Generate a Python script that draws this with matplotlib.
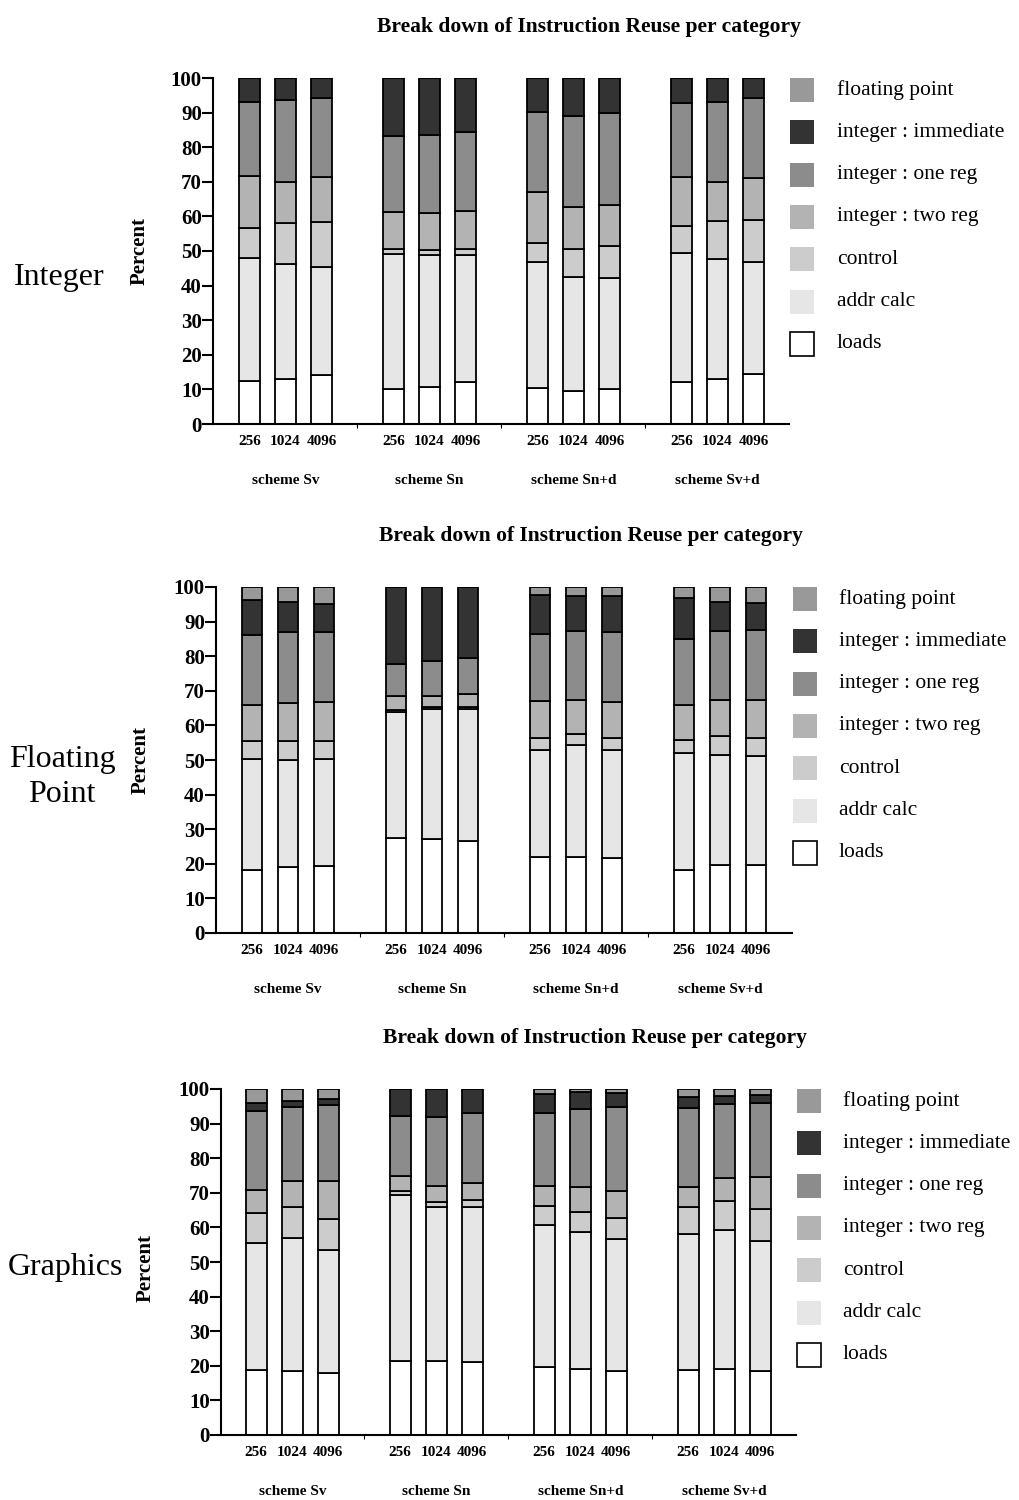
import numpy as np
import matplotlib
matplotlib.use("Agg")
import matplotlib.pyplot as plt
from matplotlib.patches import Rectangle

plt.rcParams["font.family"] = ["Liberation Serif", "DejaVu Serif"]

W, H = 1020, 1500

schemes = ["scheme Sv", "scheme Sn", "scheme Sn+d", "scheme Sv+d"]
sizes = ["256", "1024", "4096"]
categories = ["loads", "addr calc", "control", "integer : two reg",
              "integer : one reg", "integer : immediate", "floating point"]
colors = ["#ffffff", "#e6e6e6", "#cccccc", "#b3b3b3", "#8c8c8c", "#333333", "#999999"]

# cumulative top of each category (percent), 12 bars: Sv, Sn, Sn+d, Sv+d x (256, 1024, 4096)
int_loads = [12.5, 12.9, 14.1, 10.2, 10.7, 12.0, 10.5, 9.6, 10.2, 12.2, 13.0, 14.4]
int_addr = [47.9, 46.3, 45.5, 49.2, 48.7, 48.7, 46.8, 42.6, 42.3, 49.4, 47.7, 46.7]
int_control = [56.6, 58.1, 58.3, 50.6, 50.3, 50.6, 52.3, 50.7, 51.5, 57.2, 58.7, 58.9]
int_two = [71.7, 70.0, 71.4, 61.4, 61.1, 61.6, 67.0, 62.7, 63.2, 71.4, 69.8, 71.2]
int_one = [93.1, 93.5, 94.3, 83.1, 83.4, 84.4, 90.1, 88.9, 89.9, 92.8, 93.2, 94.2]
int_imm = [100, 100, 100, 100, 100, 100, 100, 100, 100, 100, 100, 100]
int_fp = [100, 100, 100, 100, 100, 100, 100, 100, 100, 100, 100, 100]

fp_loads = [18.1, 19.1, 19.3, 27.6, 27.2, 26.6, 21.9, 22.1, 21.6, 18.1, 19.6, 19.6]
fp_addr = [50.3, 49.9, 50.2, 64.0, 64.7, 64.7, 53.0, 54.2, 52.8, 52.0, 51.4, 51.1]
fp_control = [55.6, 55.6, 55.6, 64.5, 65.2, 65.2, 56.5, 57.6, 56.5, 55.7, 56.8, 56.3]
fp_two = [65.9, 66.5, 66.8, 68.4, 68.6, 69.1, 67.1, 67.4, 66.8, 65.9, 67.4, 67.4]
fp_one = [86.2, 87.1, 87.1, 77.7, 78.7, 79.4, 86.5, 87.3, 87.0, 85.0, 87.3, 87.5]
fp_imm = [96.2, 95.8, 95.0, 100, 100, 100, 97.7, 97.5, 97.3, 96.9, 95.8, 95.4]
fp_fp = [100, 100, 100, 100, 100, 100, 100, 100, 100, 100, 100, 100]

gr_loads = [18.9, 18.5, 18.0, 21.4, 21.4, 21.0, 19.7, 19.1, 18.6, 18.8, 19.1, 18.6]
gr_addr = [55.6, 56.9, 53.5, 69.5, 65.8, 66.0, 60.8, 58.7, 56.6, 58.1, 59.3, 56.0]
gr_control = [64.3, 65.8, 62.4, 70.4, 67.2, 67.9, 66.2, 64.4, 62.6, 66.0, 67.7, 65.3]
gr_two = [70.7, 73.3, 73.5, 75.0, 72.0, 72.7, 72.0, 71.8, 70.6, 71.7, 74.4, 74.6]
gr_one = [93.7, 94.7, 95.5, 92.3, 92.0, 93.0, 93.2, 94.3, 94.7, 94.6, 95.7, 96.0]
gr_imm = [96.0, 96.6, 97.1, 100, 100, 100, 98.5, 99.0, 98.8, 97.7, 98.0, 98.2]
gr_fp = [100, 100, 100, 100, 100, 100, 100, 100, 100, 100, 100, 100]

panels = [
    {"label": "Integer", "tops": [int_loads, int_addr, int_control, int_two, int_one, int_imm, int_fp],
     "ax": (213, 78, 789, 424), "first": 249.5, "title": (589, 27), "lab": (59, 278), "pct": (140, 251),
     "leg": (790, 837, 90)},
    {"label": "Floating\nPoint", "tops": [fp_loads, fp_addr, fp_control, fp_two, fp_one, fp_imm, fp_fp],
     "ax": (216, 587, 792, 933), "first": 252, "title": (591, 536), "lab": (62, 777), "pct": (141, 760),
     "leg": (793, 839, 599)},
    {"label": "Graphics", "tops": [gr_loads, gr_addr, gr_control, gr_two, gr_one, gr_imm, gr_fp],
     "ax": (221, 1089, 796, 1435), "first": 256.3, "title": (595, 1038), "lab": (65, 1268), "pct": (146, 1268),
     "leg": (797, 843, 1101)},
]

fig = plt.figure(figsize=(W / 100, H / 100), dpi=100)

pos = np.array([g * 4 + i for g in range(4) for i in range(3)], dtype=float)
step = 36.0

for p in panels:
    x0, ytop, x1, ybot = p["ax"]
    ax = fig.add_axes([x0 / W, 1 - ybot / H, (x1 - x0) / W, (ybot - ytop) / H])
    xmin = -(p["first"] - x0) / step
    xmax = xmin + (x1 - x0) / step

    tops = np.array(p["tops"])
    bottoms = np.vstack([np.zeros(len(pos)), tops[:-1]])
    for k in range(len(categories)):
        ax.bar(pos, tops[k] - bottoms[k], bottom=bottoms[k], width=0.58,
               color=colors[k], edgecolor="black", linewidth=1.3)

    ax.set_xlim(xmin, xmax)
    ax.set_ylim(0, 100)
    ax.spines["top"].set_visible(False)
    ax.spines["right"].set_visible(False)
    ax.spines["left"].set_linewidth(1.5)
    ax.spines["bottom"].set_linewidth(1.5)
    ax.set_yticks(range(0, 101, 10))
    ax.tick_params(axis="y", length=8, width=1.5, labelsize=15, pad=0)
    for t in ax.get_yticklabels():
        t.set_fontweight("bold")
    ax.set_xticks([3, 7, 11])
    ax.set_xticklabels([])
    ax.tick_params(axis="x", length=3, width=0.8)

    for i, x in enumerate(pos):
        ax.text(x, -5.2, sizes[i % 3], ha="center", va="center", fontsize=11,
                fontweight="bold", clip_on=False)
    for g, s in enumerate(schemes):
        ax.text(g * 4 + 1, -16.2, s, ha="center", va="center", fontsize=11,
                fontweight="bold", clip_on=False)

    tx, ty = p["title"]
    fig.text(tx / W, 1 - ty / H, "Break down of Instruction Reuse per category",
             ha="center", va="center", fontsize=15.5, fontweight="bold")
    lx, ly = p["lab"]
    fig.text(lx / W, 1 - ly / H, p["label"], ha="center", va="center",
             fontsize=23, linespacing=1.25)
    px, py = p["pct"]
    fig.text(px / W, 1 - py / H, "Percent", ha="center", va="center",
             fontsize=15, fontweight="bold", rotation=90)

    bx, tx2, by = p["leg"]
    for j, k in enumerate(range(len(categories) - 1, -1, -1)):
        yc = by + j * 42.3
        fig.patches.append(Rectangle((bx / W, 1 - (yc + 12) / H), 24 / W, 24 / H,
                                     transform=fig.transFigure, facecolor=colors[k],
                                     edgecolor="black" if k == 0 else "none", linewidth=1.2))
        fig.text(tx2 / W, 1 - yc / H, categories[k], ha="left", va="center", fontsize=15.5)

fig.savefig("out.png", dpi=100)
